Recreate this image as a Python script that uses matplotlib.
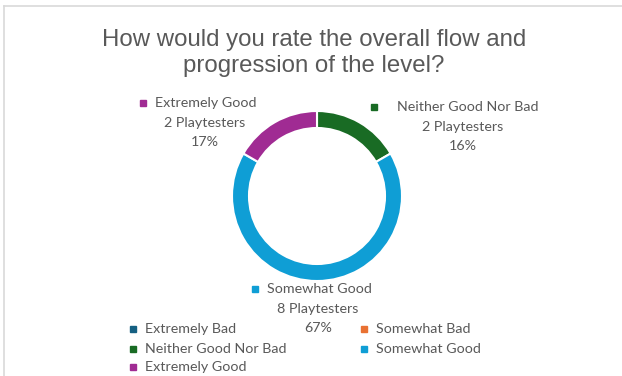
import matplotlib.pyplot as plt
from matplotlib.lines import Line2D

categories = ["Extremely Bad", "Somewhat Bad", "Neither Good Nor Bad",
              "Somewhat Good", "Extremely Good"]
playtesters = [0, 0, 2, 8, 2]
pct_labels = ["0%", "0%", "16%", "67%", "17%"]
colors = ["#156082", "#E97132", "#196B24", "#0F9ED5", "#A02B93"]

W, H = 622, 376
TXT = "#595959"
FONT = "Lato"
FS = 10.3

fig = plt.figure(figsize=(W / 100, H / 100), dpi=100)


def fx(x):
    return x / W


def fy(y):
    return 1 - y / H


# chart frame (top and left edges visible)
fig.add_artist(Line2D([fx(4), fx(4)], [fy(6), 0], transform=fig.transFigure,
                      color="#d9d9d9", lw=1.2))
fig.add_artist(Line2D([fx(4), 1], [fy(6), fy(6)], transform=fig.transFigure,
                      color="#d9d9d9", lw=1.2))

fig.text(fx(314), fy(53), "How would you rate the overall flow and\nprogression of the level?",
         ha="center", va="center", fontsize=17.3, color=TXT,
         family="Liberation Sans", linespacing=1.22)

# donut
cx, cy, r = 317, 196, 85
ax = fig.add_axes([fx(cx - r), fy(cy + r), 2 * r / W, 2 * r / H])
ax.pie(playtesters, colors=colors, startangle=90, counterclock=False,
       radius=1, wedgeprops=dict(width=0.2, edgecolor="white", linewidth=1.5))
ax.set_xlim(-1, 1)
ax.set_ylim(-1, 1)
ax.axis("off")


def square(x, y, c):
    fig.add_artist(Line2D([fx(x)], [fy(y)], marker="s", markersize=4.5,
                          color=c, transform=fig.transFigure))


# data labels: (marker x, name x, name-line y, center x of lower lines)
label_pos = {2: (374, 397, 107, 463), 3: (255, 267, 289, 318), 4: (143, 155, 103, 205)}
for i, (mx, tx, ly, cxl) in label_pos.items():
    square(mx, ly, colors[i])
    fig.text(fx(tx), fy(ly), categories[i], ha="left", va="center",
             fontsize=FS, color=TXT, family=FONT)
    fig.text(fx(cxl), fy(ly + 20), f"{playtesters[i]} Playtesters", ha="center",
             va="center", fontsize=FS, color=TXT, family=FONT)
    fig.text(fx(cxl), fy(ly + 39), pct_labels[i], ha="center", va="center",
             fontsize=FS, color=TXT, family=FONT)

# legend
legend_pos = [(133, 329), (364, 329), (133, 349), (364, 349), (133, 367)]
for i, (lx, ly) in enumerate(legend_pos):
    square(lx, ly, colors[i])
    fig.text(fx(lx + 12), fy(ly), categories[i], ha="left", va="center",
             fontsize=FS, color=TXT, family=FONT)

fig.savefig("out.png", dpi=100, facecolor="white")
